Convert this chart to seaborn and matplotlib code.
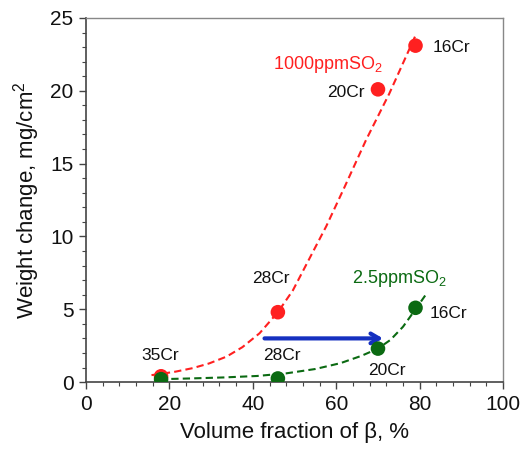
import numpy as np
import pandas as pd
import matplotlib
matplotlib.use("Agg")
import matplotlib.pyplot as plt
import seaborn as sns

# ---- data ----
vol_frac = [18, 46, 70, 79]
wc_1000ppm = [0.4, 4.8, 20.1, 23.1]
wc_2_5ppm = [0.2, 0.25, 2.3, 5.1]
alloy_labels = ["35Cr", "28Cr", "20Cr", "16Cr"]

# trend curves
curve_red_x = [15.7, 17.7, 21.5, 25.6, 29.5, 33.7, 37.5, 41.6, 46.0, 49.6, 53.6, 57.6, 62.0, 67.1, 72.7, 79.0]
curve_red_y = [0.48, 0.55, 0.72, 0.96, 1.28, 1.75, 2.4, 3.35, 4.8, 6.3, 8.5, 10.7, 13.4, 16.6, 19.8, 23.8]
curve_grn_x = [17.7, 25, 33, 41, 48, 55, 61, 66, 70, 73, 76, 79, 81.7]
curve_grn_y = [0.2, 0.25, 0.32, 0.42, 0.6, 0.9, 1.3, 1.8, 2.3, 2.9, 3.8, 5.0, 6.1]

x_ticks = [0, 20, 40, 60, 80, 100]
y_ticks = [0, 5, 10, 15, 20, 25]

RED = "#ff2020"
GREEN = "#0b6a12"
BLUE = "#1530c0"
TXT = "#111111"

sns.set_style("white")
plt.rcParams["font.family"] = ["Liberation Sans", "DejaVu Sans"]
plt.rcParams["mathtext.fontset"] = "custom"
plt.rcParams["mathtext.rm"] = "Liberation Sans"
plt.rcParams["mathtext.default"] = "regular"

fig = plt.figure(figsize=(5.26, 4.49), dpi=100)
ax = fig.add_axes([0.1635, 0.149, 0.793, 0.811])

df_red = pd.DataFrame({"x": curve_red_x, "y": curve_red_y})
df_grn = pd.DataFrame({"x": curve_grn_x, "y": curve_grn_y})
sns.lineplot(data=df_red, x="x", y="y", ax=ax, color=RED, lw=1.5,
             linestyle=(0, (3.5, 2)), sort=False, estimator=None)
sns.lineplot(data=df_grn, x="x", y="y", ax=ax, color=GREEN, lw=1.5,
             linestyle=(0, (3.5, 2)), sort=False, estimator=None)

pts = pd.DataFrame({"x": vol_frac + vol_frac,
                    "y": wc_1000ppm + wc_2_5ppm,
                    "s": ["1000"] * 4 + ["2.5"] * 4})
sns.scatterplot(data=pts, x="x", y="y", hue="s", palette={"1000": RED, "2.5": GREEN},
                s=110, edgecolor="none", ax=ax, legend=False, zorder=5)

# blue arrow
ax.annotate("", xy=(71.2, 3.0), xytext=(42.8, 3.0),
            arrowprops=dict(arrowstyle="->,head_length=0.6,head_width=0.35",
                            color=BLUE, lw=3, shrinkA=0, shrinkB=0))

fs = 12.5
ax.text(83, 23.0, "16Cr", fontsize=fs, color=TXT, ha="left", va="center")
ax.text(66.7, 19.85, "20Cr", fontsize=fs, color=TXT, ha="right", va="center")
ax.text(44.4, 7.1, "28Cr", fontsize=fs, color=TXT, ha="center", va="center")
ax.text(17.7, 1.85, "35Cr", fontsize=fs, color=TXT, ha="center", va="center")
ax.text(47.0, 1.85, "28Cr", fontsize=fs, color=TXT, ha="center", va="center")
ax.text(72.2, 0.8, "20Cr", fontsize=fs, color=TXT, ha="center", va="center")
ax.text(82.3, 4.7, "16Cr", fontsize=fs, color=TXT, ha="left", va="center")
ax.text(58.0, 21.8, "1000ppmSO$_2$", fontsize=13, color=RED, ha="center", va="center")
ax.text(75.1, 7.1, "2.5ppmSO$_2$", fontsize=13, color=GREEN, ha="center", va="center")

ax.set_xlim(0, 100)
ax.set_ylim(0, 25)
ax.set_xticks(x_ticks)
ax.set_yticks(y_ticks)
ax.set_xticks(np.arange(0, 101, 4), minor=True)
ax.set_yticks(np.arange(0, 26, 1), minor=True)
ax.tick_params(axis="both", which="both", bottom=True, left=True, top=False, right=False)
ax.tick_params(axis="both", which="major", direction="out", length=5, width=1,
               colors="#444444", labelsize=15, labelcolor=TXT, pad=4)
ax.tick_params(axis="both", which="minor", direction="out", length=3, width=0.8,
               colors="#444444")
for side in ["left", "bottom"]:
    ax.spines[side].set_color("#444444")
    ax.spines[side].set_linewidth(1.2)
for side in ["top", "right"]:
    ax.spines[side].set_color("#888888")
    ax.spines[side].set_linewidth(1.0)

ax.set_xlabel("Volume fraction of β, %", fontsize=16, color=TXT, labelpad=6)
ax.set_ylabel("Weight change, mg/cm$^2$", fontsize=16, color=TXT, labelpad=6)

fig.savefig("out.png", dpi=100)
